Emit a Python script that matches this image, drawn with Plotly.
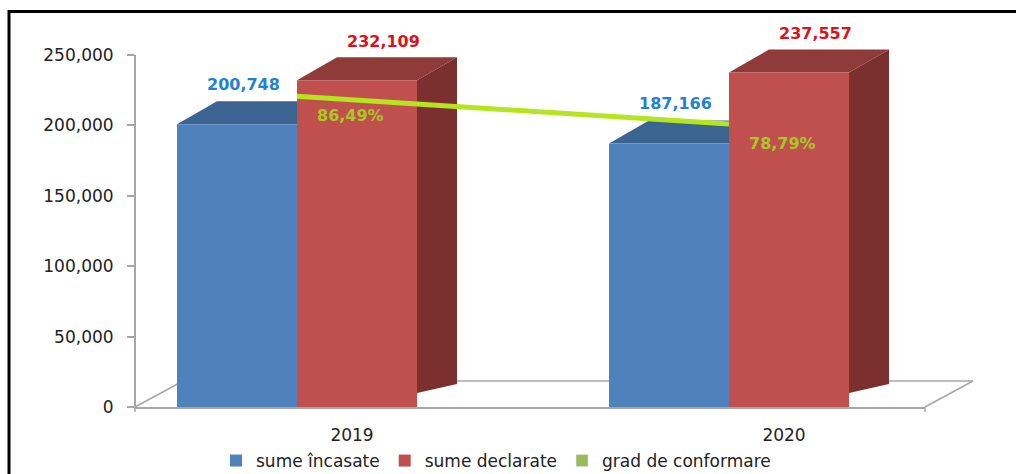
import plotly.graph_objects as go

# ---------------- data ----------------
years = [2019, 2020]
categories = ["2019", "2020"]
sume_incasate = [200748, 187166]
sume_declarate = [232109, 237557]
grad_conformare = [86.49, 78.79]
y_tick_vals = [0, 50000, 100000, 150000, 200000, 250000]
y_tick_text = ["0", "50,000", "100,000", "150,000", "200,000", "250,000"]
series_names = ["sume încasate", "sume declarate", "grad de conformare"]

# ---------------- layout constants ----------------
W, H = 1016, 474
PL, PR, PT, PB = 135, 925, 40, 407   # plot area in pixels (extra headroom for 3D tops)
AX_TOP = 55                          # pixel row of the 250,000 tick
pw, ph = PR - PL, PB - PT
Y_AX_MAX = 250000
Y_MAX = Y_AX_MAX * ph / (PB - AX_TOP)
Y2_MAX = 98 * ph / (PB - AX_TOP)
px_per_year = 432
first_center = 297
x_lo = years[0] - (first_center - PL) / px_per_year
x_hi = x_lo + pw / px_per_year
bar_w = 120 / px_per_year
bw_px = 120
DX, DY = 40, 23

BLUE, BLUE_TOP, BLUE_SIDE = "#4F81BD", "#3C6491", "#34557E"
RED, RED_TOP, RED_SIDE = "#C0504D", "#8E3B39", "#7B302F"
LIME, OLIVE, LIME_TXT = "#B5E61D", "#9BBB59", "#A9C922"
AXIS_GREY = "#A6A6A6"
FONT = "DejaVu Sans"

fig = go.Figure()
fig.add_trace(go.Bar(x=years, y=sume_incasate, name=series_names[0], marker_color=BLUE,
                     marker_line_width=0, width=bar_w, offset=-bar_w))
fig.add_trace(go.Bar(x=years, y=sume_declarate, name=series_names[1], marker_color=RED,
                     marker_line_width=0, width=bar_w, offset=0))
fig.add_trace(go.Scatter(x=years, y=grad_conformare, yaxis="y2", mode="lines",
                         line=dict(color=LIME, width=5), showlegend=False,
                         name=series_names[2]))
# legend entry (square marker) for the line series
fig.add_trace(go.Bar(x=[None], y=[None], name=series_names[2], marker_color=OLIVE))

shapes = []
# floor (back edge and diagonals)
shapes.append(dict(type="path", xref="paper", yref="paper", xsizemode="pixel", ysizemode="pixel",
                   xanchor=0, yanchor=0,
                   path=f"M0,0 L48,26 L{pw + 48},26 L{pw},0",
                   line=dict(color=AXIS_GREY, width=1.5), layer="below"))
# value axis line from 0 to 250,000
shapes.append(dict(type="line", xref="paper", yref="y", x0=0, x1=0, y0=0, y1=Y_AX_MAX,
                   line=dict(color=AXIS_GREY, width=2), layer="above"))
# small corner ticks below the floor front edge
for xp in (0, 1):
    shapes.append(dict(type="line", xref="paper", yref="paper", ysizemode="pixel", yanchor=0,
                       x0=xp, x1=xp, y0=0, y1=-5, line=dict(color=AXIS_GREY, width=1.5)))


def faces(xleft, val, top_col, side_col):
    h = val / Y_MAX * ph
    top = dict(type="path", xref="x", yref="y", xsizemode="pixel", ysizemode="pixel",
               xanchor=xleft, yanchor=val,
               path=f"M0,0 L{DX},{DY} L{DX + bw_px},{DY} L{bw_px},0 Z",
               fillcolor=top_col, line=dict(width=0), layer="below")
    side = dict(type="path", xref="x", yref="y", xsizemode="pixel", ysizemode="pixel",
                xanchor=xleft + bar_w, yanchor=0,
                path=f"M0,14 L0,{h:.1f} L{DX},{h + DY:.1f} L{DX},{DY} Z",
                fillcolor=side_col, line=dict(width=0), layer="below")
    return [side, top]


for yr, v in zip(years, sume_incasate):
    shapes += faces(yr - bar_w, v, BLUE_TOP, BLUE_SIDE)
for yr, v in zip(years, sume_declarate):
    shapes += faces(yr, v, RED_TOP, RED_SIDE)

# outer black frame (top and left)
shapes.append(dict(type="path", xref="paper", yref="paper", xsizemode="pixel", ysizemode="pixel",
                   xanchor=0, yanchor=1,
                   path=f"M{9 - PL},{-(H - PT) - 5} L{9 - PL},{PT - 11.5} L{W - PL + 5},{PT - 11.5}",
                   line=dict(color="black", width=3), layer="above"))

annotations = []
for yr, v in zip(years, sume_incasate):
    annotations.append(dict(x=yr - bar_w / 2, y=v, xref="x", yref="y", text=f"{v:,}",
                            showarrow=False, xshift=6, yshift=40,
                            font=dict(family=FONT, size=16, color="#1F82D2", weight="bold")))
for yr, v in zip(years, sume_declarate):
    annotations.append(dict(x=yr + bar_w / 2, y=v, xref="x", yref="y", text=f"{v:,}",
                            showarrow=False, xshift=26, yshift=39,
                            font=dict(family=FONT, size=16, color="#E0101A", weight="bold")))
for yr, v in zip(years, grad_conformare):
    annotations.append(dict(x=yr, y=v, xref="x", yref="y2",
                            text=f"{v:.2f}%".replace(".", ","),
                            showarrow=False, xshift=53, yshift=-19,
                            font=dict(family=FONT, size=16, color=LIME_TXT, weight="bold")))

fig.update_layout(
    width=W, height=H,
    margin=dict(l=PL, r=W - PR, t=PT, b=H - PB, pad=0, autoexpand=False),
    paper_bgcolor="white", plot_bgcolor="white",
    barmode="overlay",
    showlegend=True,
    legend=dict(orientation="h", x=(496 - PL) / pw, xanchor="center",
                y=(PB - 461) / ph, yanchor="middle",
                font=dict(family=FONT, size=17, color="#222222"),
                itemwidth=30, bgcolor="rgba(0,0,0,0)"),
    xaxis=dict(type="linear", range=[x_lo, x_hi], tickvals=years, ticktext=categories,
               ticklabelshift=55, ticklabelstandoff=12, showline=True, linecolor=AXIS_GREY,
               linewidth=2, ticks="", showgrid=False, zeroline=False, automargin=False,
               tickfont=dict(family=FONT, size=17, color="#222222")),
    yaxis=dict(range=[0, Y_MAX], tickvals=y_tick_vals, ticktext=y_tick_text,
               ticks="outside", ticklen=7, tickwidth=2, tickcolor=AXIS_GREY,
               showline=False, showgrid=False, automargin=False,
               zeroline=False, ticklabelstandoff=10,
               tickfont=dict(family=FONT, size=17, color="#222222")),
    yaxis2=dict(overlaying="y", range=[0, Y2_MAX], visible=False),
    shapes=shapes,
    annotations=annotations,
)

fig.write_html("out.html")
